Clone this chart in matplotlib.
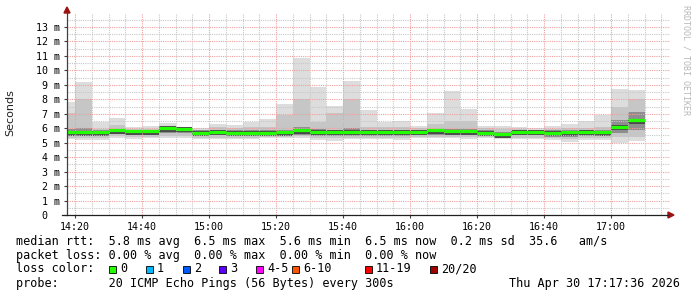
import numpy as np
import matplotlib
matplotlib.use("Agg")
import matplotlib.pyplot as plt
from matplotlib.patches import Rectangle

W, H = 697, 297

# 5 minute bins, first one starts 14:15 (minutes since midnight)
bin_start = 14 * 60 + 15 + 5 * np.arange(35)

# smoke / median values in ms
rtt_max = [7.84, 9.22, 6.45, 6.73, 6.06, 6.15, 6.38, 6.08, 5.99, 6.29,
           6.22, 6.45, 6.64, 7.68, 10.88, 8.83, 7.54, 9.27, 7.26, 6.45,
           6.50, 6.15, 7.05, 8.58, 7.33, 6.15, 6.15, 6.08, 5.99, 6.17,
           6.29, 6.52, 6.92, 8.69, 8.66]
rtt_p90 = [7.05, 8.02, 5.95, 6.20, 5.95, 5.95, 6.15, 6.00, 5.90, 6.05,
           6.00, 6.10, 6.10, 6.92, 8.02, 6.45, 7.03, 8.02, 6.10, 6.10,
           6.10, 6.00, 6.30, 6.50, 6.50, 6.00, 5.95, 5.95, 5.90, 5.95,
           6.00, 6.00, 6.10, 7.50, 8.00]
rtt_p75 = [5.95, 6.00, 5.85, 5.95, 5.90, 5.90, 6.05, 6.00, 5.85, 5.90,
           5.85, 5.85, 5.85, 5.90, 6.10, 5.95, 5.90, 6.00, 5.90, 5.90,
           5.85, 5.85, 5.95, 5.95, 5.95, 5.85, 5.75, 5.90, 5.85, 5.85,
           5.85, 5.90, 5.85, 6.60, 7.10]
rtt_med = [5.69, 5.69, 5.69, 5.83, 5.76, 5.76, 5.97, 5.92, 5.65, 5.71,
           5.65, 5.65, 5.65, 5.69, 5.83, 5.71, 5.71, 5.71, 5.71, 5.71,
           5.71, 5.71, 5.83, 5.76, 5.76, 5.65, 5.55, 5.71, 5.74, 5.67,
           5.69, 5.74, 5.69, 6.09, 6.52]
rtt_p25 = [5.50, 5.50, 5.50, 5.60, 5.55, 5.55, 5.65, 5.65, 5.45, 5.50,
           5.45, 5.45, 5.50, 5.50, 5.55, 5.45, 5.45, 5.45, 5.45, 5.45,
           5.45, 5.50, 5.55, 5.50, 5.50, 5.45, 5.40, 5.50, 5.50, 5.40,
           5.40, 5.45, 5.45, 5.70, 5.85]
rtt_p10 = [5.35, 5.35, 5.35, 5.45, 5.40, 5.40, 5.45, 5.45, 5.35, 5.35,
           5.35, 5.35, 5.40, 5.40, 5.45, 5.30, 5.30, 5.35, 5.35, 5.35,
           5.30, 5.40, 5.40, 5.40, 5.40, 5.40, 5.35, 5.35, 5.35, 5.30,
           5.25, 5.30, 5.30, 5.40, 5.40]
rtt_min = [5.25, 5.19, 5.19, 5.30, 5.25, 5.30, 5.35, 5.30, 5.25, 5.25,
           5.25, 5.25, 5.30, 5.30, 5.35, 5.20, 5.10, 5.25, 5.25, 5.25,
           5.20, 5.30, 5.30, 5.30, 5.25, 5.30, 5.25, 5.25, 5.25, 5.20,
           5.07, 5.20, 5.20, 5.00, 5.14]

y_ticks = list(range(14))
y_labels = ["0  "] + ["%d m" % v for v in y_ticks[1:]]
x_ticks = ["14:20", "14:40", "15:00", "15:20", "15:40", "16:00", "16:20", "16:40", "17:00"]

legend_rows = [
    "median rtt:  5.8 ms avg  6.5 ms max  5.6 ms min  6.5 ms now  0.2 ms sd  35.6   am/s",
    "packet loss: 0.00 % avg  0.00 % max  0.00 % min  0.00 % now",
]
loss_labels = ["0", "1", "2", "3", "4-5", "6-10", "11-19", "20/20"]
loss_colors = ["#26ff00", "#00b8ff", "#0059ff", "#5e00ff", "#ff00ff", "#ff5500", "#ff0000", "#a00000"]
probe_text = "probe:       20 ICMP Echo Pings (56 Bytes) every 300s"
stamp_text = "Thu Apr 30 17:17:36 2026"

MONO = "DejaVu Sans Mono"


def to_min(s):
    h, m = s.split(":")
    return int(h) * 60 + int(m)


def fx(px):
    return px / W


def fy(py):
    return 1 - py / H


fig = plt.figure(figsize=(W / 100, H / 100), dpi=100)
fig.patch.set_facecolor("white")
ax = fig.add_axes([fx(67), fy(215), 603 / W, 202.5 / H])
ax.set_facecolor("white")

t0 = to_min("17:17") + 36 / 60 - 180
ax.set_xlim(t0, t0 + 180)
ax.set_ylim(0, 14)

# smoke layers, outermost first
layers = [(rtt_min, rtt_max, "#dddddd"),
          (rtt_p10, rtt_p90, "#c6c6c6"),
          (rtt_p25, rtt_p75, "#8e8e8e")]
for lo, hi, col in layers:
    lo = np.array(lo)
    hi = np.array(hi)
    ax.bar(bin_start, hi - lo, bottom=lo, width=5, align="edge",
           color=col, linewidth=0, zorder=2)
# dark core around the median
med = np.array(rtt_med)
ax.bar(bin_start, 0.35, bottom=med - 0.2, width=5, align="edge",
       color="#4a4a4a", linewidth=0, zorder=2)
ax.hlines(med + 0.02, bin_start, bin_start + 5, color="#22ff00", linewidth=2.3, zorder=4)

# grid
minor_x = np.arange(to_min("14:20"), t0 + 180, 5)
major_x = [to_min(s) for s in x_ticks]
for x in minor_x:
    if x not in major_x:
        ax.axvline(x, color="#c8c8c8", linestyle=(0, (1, 1)), linewidth=0.8, zorder=3)
for x in major_x:
    ax.axvline(x, color="#f0a0a0", linestyle=(0, (1, 1)), linewidth=0.8, zorder=3)
for y in np.arange(0.5, 14, 1.0):
    ax.axhline(y, color="#c8c8c8", linestyle=(0, (1, 1)), linewidth=0.8, zorder=3)
for y in y_ticks[1:]:
    ax.axhline(y, color="#f0a0a0", linestyle=(0, (1, 1)), linewidth=0.8, zorder=3)

ax.set_xticks(major_x)
ax.set_xticklabels(x_ticks, fontfamily=MONO, fontsize=7.2)
ax.set_yticks(y_ticks)
ax.set_yticklabels(y_labels, fontfamily=MONO, fontsize=7.2)
ax.tick_params(axis="both", length=2, width=0.8, color="#404040", pad=3)

for s in ["top", "right", "left", "bottom"]:
    ax.spines[s].set_visible(False)

# axis lines with arrow heads
fig.add_artist(plt.Line2D([fx(67), fx(67)], [fy(215), fy(12)], color="#404040", linewidth=0.9))
fig.add_artist(plt.Line2D([fx(62), fx(668)], [fy(215), fy(215)], color="#202020", linewidth=0.9))
fig.add_artist(plt.Polygon([[fx(64), fy(13)], [fx(70), fy(13)], [fx(67), fy(7)]],
                           closed=True, color="#a01010"))
fig.add_artist(plt.Polygon([[fx(668), fy(212)], [fx(668), fy(218)], [fx(674), fy(215)]],
                           closed=True, color="#a01010"))

fig.text(fx(10), fy(113), "Seconds", rotation=90, ha="center", va="center",
         fontsize=8, color="#202020")
fig.text(fx(686), fy(5), "RRDTOOL / TOBI OETIKER", rotation=270, ha="center", va="top",
         fontfamily=MONO, fontsize=6, color="#b8b8b8")

# legend
for i, row in enumerate(legend_rows):
    fig.text(fx(16), fy(241 + 14 * i), row, fontfamily=MONO, fontsize=8.5,
             va="center", ha="left", color="black")
fig.text(fx(16), fy(269), "loss color:", fontfamily=MONO, fontsize=8.5,
         va="center", ha="left", color="black")
box_x = [109, 146, 183, 219, 256, 292, 365, 430]
for bx, lab, col in zip(box_x, loss_labels, loss_colors):
    fig.add_artist(Rectangle((fx(bx), fy(273)), 7 / W, 7 / H, facecolor=col,
                             edgecolor="black", linewidth=0.6))
    fig.text(fx(bx + 11), fy(269), lab, fontfamily=MONO, fontsize=8.5,
             va="center", ha="left", color="black")
fig.text(fx(16), fy(283), probe_text, fontfamily=MONO, fontsize=8.5,
         va="center", ha="left", color="black")
fig.text(fx(680), fy(283), stamp_text, fontfamily=MONO, fontsize=8.5,
         va="center", ha="right", color="black")

fig.savefig("out.png", dpi=100)
